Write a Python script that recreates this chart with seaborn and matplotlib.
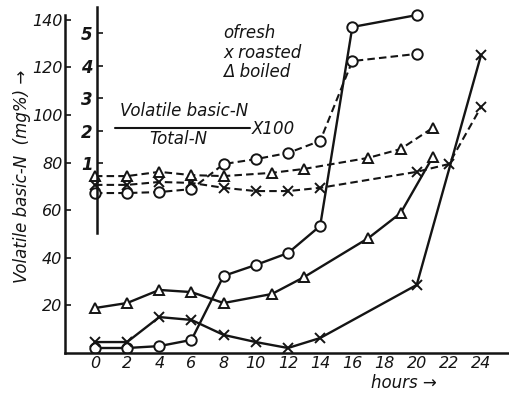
import matplotlib
matplotlib.use("Agg")
import matplotlib.pyplot as plt
from matplotlib.lines import Line2D
import seaborn as sns

# volatile basic-N (mg%), solid lines, left axis
hours_fresh = [0, 2, 4, 6, 8, 10, 12, 14, 16, 20]
fresh_vbn = [2.1, 2.1, 2.9, 5.5, 32.4, 37, 42, 53.4, 137, 142]
hours_roasted = [0, 2, 4, 6, 8, 10, 12, 14, 20, 24]
roasted_vbn = [4.6, 4.6, 15.1, 13.9, 7.6, 4.6, 2.1, 6.3, 28.6, 125.2]
hours_boiled = [0, 2, 4, 6, 8, 11, 13, 17, 19, 21]
boiled_vbn = [18.9, 21, 26.5, 25.6, 21, 24.8, 31.9, 48.3, 58.8, 82.4]

# volatile basic-N / total-N x100, dashed lines, inner axis
fresh_ratio = [0.09, 0.09, 0.12, 0.21, 0.98, 1.13, 1.32, 1.69, 4.14, 4.36]
hours_roasted_ratio = [0, 2, 4, 6, 8, 10, 12, 14, 20, 22, 24]
roasted_ratio = [0.34, 0.34, 0.43, 0.40, 0.25, 0.15, 0.15, 0.25, 0.74, 0.98, 2.73]
boiled_ratio = [0.61, 0.61, 0.74, 0.64, 0.61, 0.71, 0.83, 1.17, 1.44, 2.09]

xticks = list(range(0, 25, 2))
yticks = [20, 40, 60, 80, 100, 120, 140]
rticks = [1, 2, 3, 4, 5]

ink = "#141414"
sns.set_style("white")
plt.rcParams["font.family"] = ["DejaVu Sans"]

W, H = 510, 394
fig = plt.figure(figsize=(W / 100, H / 100), dpi=100)
ax = fig.add_axes([65 / W, 41 / H, 445 / W, 346 / H])
ax.set_xlim(-1.86, 25.8)
ax.set_ylim(0, 145.4)

mk = dict(color=ink, markerfacecolor="white", markeredgecolor=ink,
          markeredgewidth=1.4, markersize=7.5)
sns.lineplot(x=hours_fresh, y=fresh_vbn, ax=ax, marker="o", lw=1.7, **mk)
sns.lineplot(x=hours_roasted, y=roasted_vbn, ax=ax, marker="x", lw=1.7, **mk)
sns.lineplot(x=hours_boiled, y=boiled_vbn, ax=ax, marker="^", lw=1.7, **mk)

ax2 = ax.twinx()
ax2.set_ylim(-4.82, 5.80)
dash = (0, (3.6, 2.0))
sns.lineplot(x=hours_fresh, y=fresh_ratio, ax=ax2, marker="o", lw=1.5, linestyle=dash, **mk)
sns.lineplot(x=hours_roasted_ratio, y=roasted_ratio, ax=ax2, marker="x", lw=1.5, linestyle=dash, **mk)
sns.lineplot(x=hours_boiled, y=boiled_ratio, ax=ax2, marker="^", lw=1.5, linestyle=dash, **mk)

tfont = dict(fontsize=11.5, style="italic")

for s in ["top", "right"]:
    ax.spines[s].set_visible(False)
for s in ["left", "bottom"]:
    ax.spines[s].set_color(ink)
    ax.spines[s].set_linewidth(1.8)
ax.spines["left"].set_bounds(0, 142)
ax.set_xticks(xticks)
ax.set_xticklabels([str(t) for t in xticks], **tfont)
ax.set_yticks(yticks)
ax.set_yticklabels([str(t) for t in yticks], **tfont)
ax.tick_params(direction="in", length=4, width=1.2, color=ink, labelcolor=ink, pad=2)
ax.set_xlabel("")
ax.set_ylabel("")

for s in ["top", "right", "bottom"]:
    ax2.spines[s].set_visible(False)
ax2.spines["left"].set_visible(True)
ax2.spines["left"].set_position(("data", 0.12))
ax2.spines["left"].set_bounds(-1.13, 5.8)
ax2.spines["left"].set_color(ink)
ax2.spines["left"].set_linewidth(1.8)
ax2.yaxis.tick_left()
ax2.set_yticks(rticks)
ax2.set_yticklabels([str(t) for t in rticks], fontsize=12, style="italic", weight="bold")
ax2.tick_params(direction="in", length=4, width=1.2, color=ink, labelcolor=ink, pad=3)
ax2.set_ylabel("")

def px(x, y):
    return x / W, 1 - y / H

lab = dict(color=ink, style="italic", fontsize=12)
fig.text(*px(22, 176), "Volatile basic-N  (mg%) \u2192", rotation=90,
         ha="center", va="center", **lab)
fig.text(*px(404, 383), "hours \u2192", ha="center", va="center", **lab)

fig.text(*px(223, 33), "ofresh", ha="left", va="center", **lab)
fig.text(*px(223, 53), "x roasted", ha="left", va="center", **lab)
fig.text(*px(223, 72), "\u0394 boiled", ha="left", va="center", **lab)

fig.text(*px(184, 120), "Volatile basic-N", ha="center", va="bottom", **lab)
fig.text(*px(178, 130), "Total-N", ha="center", va="top", **lab)
fig.add_artist(Line2D([115 / W, 250 / W], [1 - 128 / H] * 2, color=ink, lw=1.5))
fig.text(*px(252, 129), "X100", ha="left", va="center", **lab)

fig.savefig("out.png", dpi=100, facecolor="white")
